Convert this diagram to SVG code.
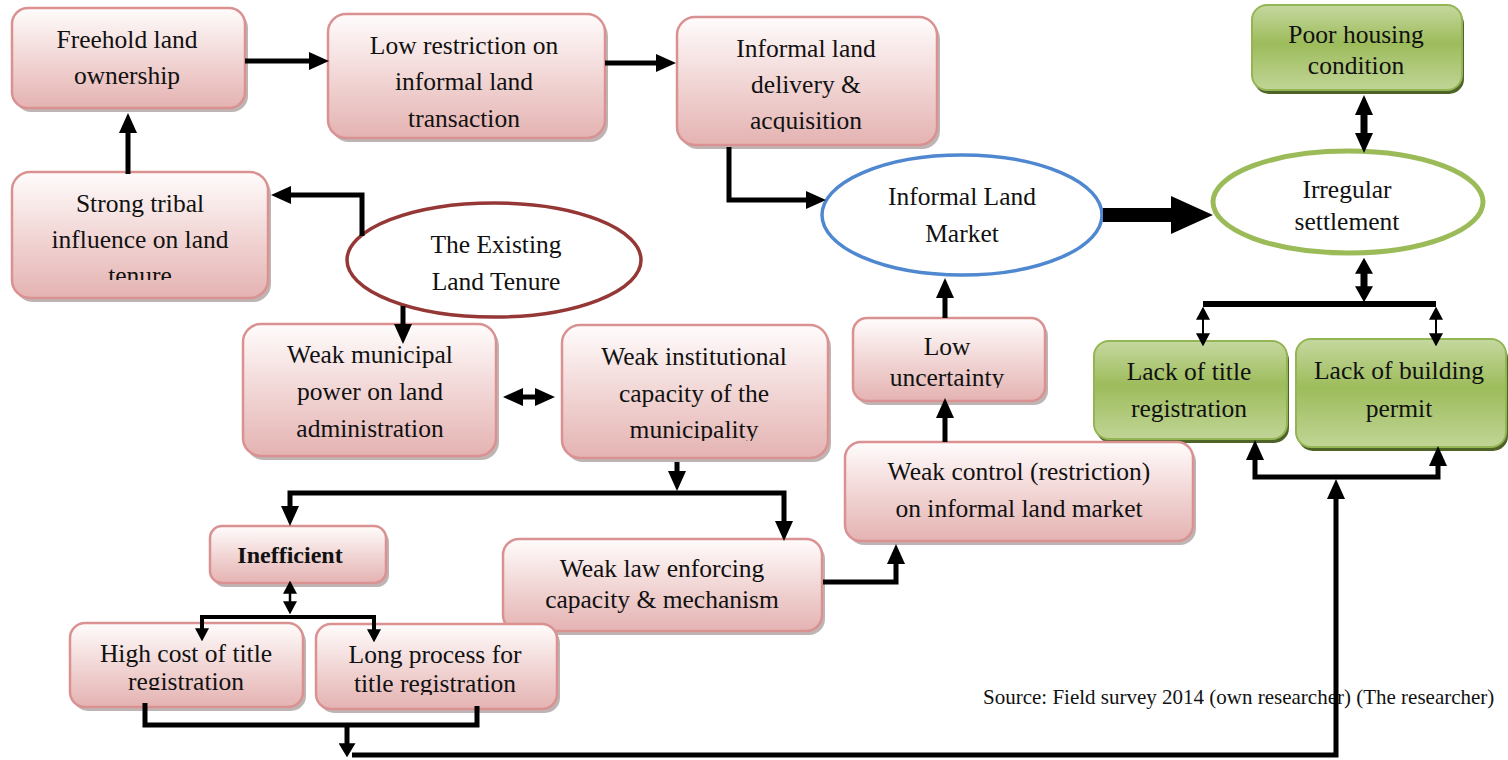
<svg xmlns="http://www.w3.org/2000/svg" width="1508" height="760" viewBox="0 0 1508 760">
<defs>
<linearGradient id="gPink" x1="0" y1="0" x2="0" y2="1">
<stop offset="0" stop-color="#fffcfc"/>
<stop offset="0.55" stop-color="#f0d3d2"/>
<stop offset="1" stop-color="#e4b3b2"/>
</linearGradient>
<linearGradient id="gGreen" x1="0" y1="0" x2="0" y2="1">
<stop offset="0" stop-color="#c5d89f"/>
<stop offset="0.45" stop-color="#9dbc5b"/>
<stop offset="1" stop-color="#c0d596"/>
</linearGradient>
<marker id="mA" viewBox="0 0 10 10" refX="0.5" refY="5" markerWidth="20" markerHeight="18" markerUnits="userSpaceOnUse" preserveAspectRatio="none" orient="auto-start-reverse"><path d="M0,0 L10,5 L0,10 z" fill="#000"/></marker>
<marker id="mS" viewBox="0 0 10 10" refX="0.5" refY="5" markerWidth="13" markerHeight="14" markerUnits="userSpaceOnUse" preserveAspectRatio="none" orient="auto-start-reverse"><path d="M0,0 L10,5 L0,10 z" fill="#000"/></marker>
<marker id="mB" viewBox="0 0 10 10" refX="0.5" refY="5" markerWidth="42" markerHeight="38" markerUnits="userSpaceOnUse" preserveAspectRatio="none" orient="auto-start-reverse"><path d="M0,0 L10,5 L0,10 z" fill="#000"/></marker>
<marker id="mM" viewBox="0 0 10 10" refX="0.5" refY="5" markerWidth="14" markerHeight="17" markerUnits="userSpaceOnUse" preserveAspectRatio="none" orient="auto-start-reverse"><path d="M0,0 L10,5 L0,10 z" fill="#000"/></marker>
<marker id="mD" viewBox="0 0 10 10" refX="0.5" refY="5" markerWidth="16" markerHeight="18" markerUnits="userSpaceOnUse" preserveAspectRatio="none" orient="auto-start-reverse"><path d="M0,0 L10,5 L0,10 z" fill="#000"/></marker>
<clipPath id="clTribal"><rect x="12" y="172" width="258" height="108"/></clipPath>
<clipPath id="clDelivery"><rect x="677" y="17" width="260" height="115"/></clipPath>
<clipPath id="clInst"><rect x="562" y="325" width="266" height="116"/></clipPath>
<clipPath id="clUnc"><rect x="853" y="318" width="192" height="70"/></clipPath>
<clipPath id="clHigh"><rect x="70" y="623" width="233" height="67"/></clipPath>
<clipPath id="clLong"><rect x="316" y="624" width="241" height="71"/></clipPath>
</defs>
<style>
.pk{fill:url(#gPink);stroke:#d99291;stroke-width:2.5}
.pks{fill:#8a7777;opacity:0.55}
.gr{fill:url(#gGreen);stroke:#94b553;stroke-width:2}
.grs{fill:#4f6228}
.t{font-family:"Liberation Serif","Times New Roman",serif;font-size:25.5px;fill:#111;text-anchor:middle}
.b{font-weight:bold;font-size:24px}
.src{font-family:"Liberation Serif","Times New Roman",serif;font-size:21px;fill:#111}
.c{fill:none;stroke:#000;stroke-width:5;stroke-linejoin:miter}
</style>

<g id="freehold">
<rect class="pks" x="15" y="12" width="233" height="100" rx="16"/>
<rect class="pk" x="12" y="8" width="233" height="100" rx="16"/>
<text class="t" x="127" y="48">Freehold land</text>
<text class="t" x="127" y="84">ownership</text>
</g>

<g id="low-restriction">
<rect class="pks" x="331" y="18" width="277" height="124" rx="18"/>
<rect class="pk" x="328" y="14" width="277" height="124" rx="18"/>
<text class="t" x="464" y="54">Low restriction on</text>
<text class="t" x="464" y="90">informal land</text>
<text class="t" x="464" y="127">transaction</text>
</g>

<g id="informal-delivery">
<rect class="pks" x="680" y="21" width="260" height="128" rx="18"/>
<rect class="pk" x="677" y="17" width="260" height="128" rx="18"/>
<g clip-path="url(#clDelivery)">
<text class="t" x="806" y="57">Informal land</text>
<text class="t" x="806" y="93">delivery &amp;</text>
<text class="t" x="806" y="129">acquisition</text>
</g>
</g>

<g id="strong-tribal">
<rect class="pks" x="15" y="176" width="256" height="126" rx="18"/>
<rect class="pk" x="12" y="172" width="256" height="126" rx="18"/>
<g clip-path="url(#clTribal)">
<text class="t" x="140" y="212">Strong tribal</text>
<text class="t" x="140" y="248">influence on land</text>
<text class="t" x="140" y="284">tenure</text>
</g>
</g>

<g id="existing-tenure">
<ellipse cx="494" cy="260" rx="147" ry="57" fill="#fff" stroke="#953735" stroke-width="3.5"/>
<text class="t" x="496" y="253">The Existing</text>
<text class="t" x="496" y="290">Land Tenure</text>
</g>

<g id="informal-market">
<ellipse cx="962" cy="215" rx="140" ry="60" fill="#fff" stroke="#4f88d0" stroke-width="3.5"/>
<text class="t" x="962" y="205">Informal Land</text>
<text class="t" x="962" y="242">Market</text>
</g>

<g id="irregular">
<ellipse cx="1348" cy="202" rx="135" ry="51" fill="#fff" stroke="#9bbb59" stroke-width="5"/>
<text class="t" x="1347" y="198">Irregular</text>
<text class="t" x="1347" y="230">settlement</text>
</g>

<g id="poor-housing">
<rect class="grs" x="1254" y="9" width="210" height="85" rx="15"/>
<rect class="gr" x="1252" y="5" width="210" height="85" rx="15"/>
<text class="t" x="1356" y="43">Poor housing</text>
<text class="t" x="1356" y="74">condition</text>
</g>

<g id="lack-title">
<rect class="grs" x="1096" y="345" width="193" height="98" rx="15"/>
<rect class="gr" x="1094" y="341" width="193" height="98" rx="15"/>
<text class="t" x="1189" y="380">Lack of title</text>
<text class="t" x="1189" y="417">registration</text>
</g>

<g id="lack-permit">
<rect class="grs" x="1298" y="343" width="210" height="108" rx="15"/>
<rect class="gr" x="1296" y="339" width="210" height="108" rx="15"/>
<text class="t" x="1399" y="379">Lack of building</text>
<text class="t" x="1399" y="417">permit</text>
</g>

<g id="weak-municipal">
<rect class="pks" x="246" y="328" width="253" height="132" rx="18"/>
<rect class="pk" x="243" y="324" width="253" height="132" rx="18"/>
<text class="t" x="370" y="363">Weak municipal</text>
<text class="t" x="370" y="400">power on land</text>
<text class="t" x="370" y="437">administration</text>
</g>

<g id="weak-institutional">
<rect class="pks" x="565" y="329" width="266" height="133" rx="18"/>
<rect class="pk" x="562" y="325" width="266" height="133" rx="18"/>
<g clip-path="url(#clInst)">
<text class="t" x="694" y="365">Weak institutional</text>
<text class="t" x="694" y="402">capacity of the</text>
<text class="t" x="694" y="438">municipality</text>
</g>
</g>

<g id="low-uncertainty">
<rect class="pks" x="856" y="322" width="192" height="83" rx="14"/>
<rect class="pk" x="853" y="318" width="192" height="83" rx="14"/>
<g clip-path="url(#clUnc)">
<text class="t" x="947" y="355">Low</text>
<text class="t" x="947" y="386">uncertainty</text>
</g>
</g>

<g id="weak-control">
<rect class="pks" x="848" y="446" width="348" height="99" rx="16"/>
<rect class="pk" x="845" y="442" width="348" height="99" rx="16"/>
<text class="t" x="1019" y="480">Weak control (restriction)</text>
<text class="t" x="1019" y="517">on informal land market</text>
</g>

<g id="weak-law">
<rect class="pks" x="506" y="543" width="319" height="92" rx="16"/>
<rect class="pk" x="503" y="539" width="319" height="92" rx="16"/>
<text class="t" x="662" y="577">Weak law enforcing</text>
<text class="t" x="662" y="608">capacity &amp; mechanism</text>
</g>

<g id="inefficient">
<rect class="pks" x="213" y="530" width="176" height="57" rx="12"/>
<rect class="pk" x="210" y="526" width="176" height="57" rx="12"/>
<text class="t b" x="290" y="563">Inefficient</text>
</g>

<g id="high-cost">
<rect class="pks" x="73" y="627" width="233" height="84" rx="15"/>
<rect class="pk" x="70" y="623" width="233" height="84" rx="15"/>
<g clip-path="url(#clHigh)">
<text class="t" x="186" y="662">High cost of title</text>
<text class="t" x="186" y="690">registration</text>
</g>
</g>

<g id="long-process">
<rect class="pks" x="319" y="628" width="241" height="85" rx="15"/>
<rect class="pk" x="316" y="624" width="241" height="85" rx="15"/>
<g clip-path="url(#clLong)">
<text class="t" x="435" y="663">Long process for</text>
<text class="t" x="435" y="692">title registration</text>
</g>
</g>

<g id="source">
<text class="src" x="983" y="704">Source: Field survey 2014 (own researcher) (The researcher)</text>
</g>

<g id="connectors">
<path class="c" d="M245,61 H310" marker-end="url(#mA)"/>
<path class="c" d="M605,63 H657" marker-end="url(#mA)"/>
<path class="c" d="M128,174 V132" marker-end="url(#mA)"/>
<path class="c" d="M362,236 V195 H290" marker-end="url(#mA)"/>
<path class="c" d="M403,306 V325" marker-end="url(#mA)"/>
<path class="c" d="M522,397 H536" marker-start="url(#mA)" marker-end="url(#mA)"/>
<path class="c" d="M729,147 V200 H807" marker-end="url(#mA)"/>
<path class="c" d="M1103,215 H1173" style="stroke-width:14" marker-end="url(#mB)"/>
<path class="c" d="M945,318 V297" marker-end="url(#mA)"/>
<path class="c" d="M945,442 V417" marker-end="url(#mA)"/>
<path class="c" d="M677,462 V472" marker-end="url(#mA)"/>
<path class="c" d="M290,507 V493 H784 V522" marker-start="url(#mA)" marker-end="url(#mA)"/>
<path class="c" d="M823,582 H896 V563" marker-end="url(#mA)"/>
<path class="c" d="M290,593 V602" style="stroke-width:2.5" marker-start="url(#mS)" marker-end="url(#mS)"/>
<path class="c" d="M202,629 V617 H374 V630" style="stroke-width:4" marker-start="url(#mS)" marker-end="url(#mS)"/>
<path class="c" d="M145,703 V725 H477 V706"/>
<path class="c" d="M347,725 V744" marker-end="url(#mM)"/>
<path class="c" d="M352,755 H1336 V498" marker-end="url(#mA)"/>
<path class="c" d="M1255,459 V477 H1438 V465" marker-start="url(#mA)" marker-end="url(#mA)"/>
<path class="c" d="M1364,114 V134" style="stroke-width:7" marker-start="url(#mA)" marker-end="url(#mA)"/>
<path class="c" d="M1364,273 V287" style="stroke-width:7" marker-start="url(#mD)" marker-end="url(#mD)"/>
<path class="c" d="M1203,304 H1436" style="stroke-width:6"/>
<path class="c" d="M1203,319 V334" style="stroke-width:2" marker-start="url(#mS)" marker-end="url(#mS)"/>
<path class="c" d="M1436,319 V334" style="stroke-width:2" marker-start="url(#mS)" marker-end="url(#mS)"/>
</g>
</svg>
